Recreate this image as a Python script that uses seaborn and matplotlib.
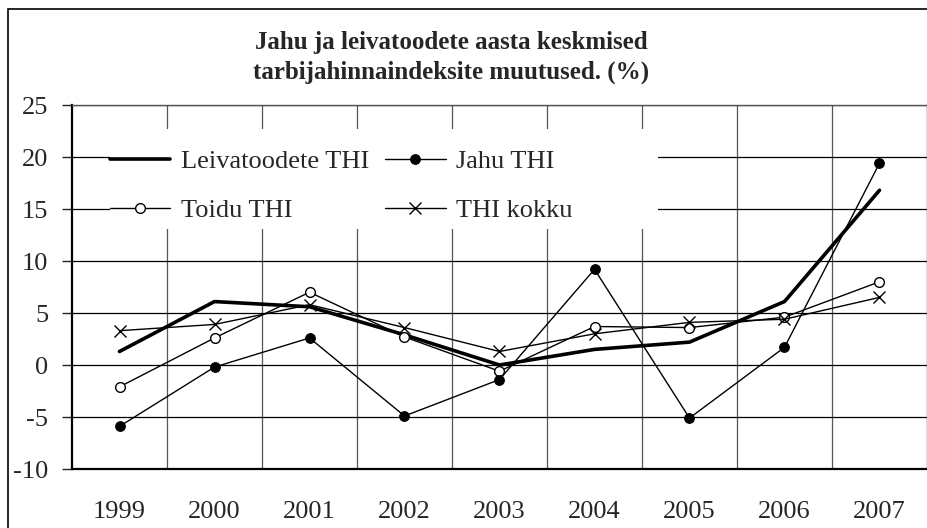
import numpy as np
import pandas as pd
import seaborn as sns
import matplotlib.pyplot as plt
from matplotlib.patches import Rectangle
from matplotlib.ticker import FixedLocator

# data (%)
years = ['1999', '2000', '2001', '2002', '2003', '2004', '2005', '2006', '2007']
leiva = [1.3, 6.1, 5.6, 2.9, 0.0, 1.5, 2.2, 6.1, 16.8]
jahu = [-5.9, -0.2, 2.6, -4.9, -1.4, 9.2, -5.1, 1.7, 19.4]
toidu = [-2.1, 2.6, 7.0, 2.7, -0.6, 3.7, 3.6, 4.6, 8.0]
kokku = [3.3, 3.9, 5.8, 3.6, 1.3, 3.0, 4.1, 4.4, 6.5]

names = ['Leivatoodete THI', 'Toidu THI', 'Jahu THI', 'THI kokku']

sns.set_style("white")
plt.rcParams['font.family'] = ['Liberation Serif', 'DejaVu Serif']
plt.rcParams['axes.unicode_minus'] = False

fig = plt.figure(figsize=(9.28, 5.28), dpi=100)
ax = fig.add_axes([72 / 928, 59 / 528, 855 / 928, 364 / 528])

# line styles per series
sns.lineplot(x=years, y=leiva, ax=ax, color='black', lw=2.6, sort=False,
             label=names[0], zorder=3)
sns.lineplot(x=years, y=toidu, ax=ax, color='black', lw=1.0, sort=False,
             marker='o', markersize=7, markerfacecolor='white',
             markeredgecolor='black', markeredgewidth=1.0, label=names[1], zorder=3)
sns.lineplot(x=years, y=jahu, ax=ax, color='black', lw=1.0, sort=False,
             marker='o', markersize=7, markerfacecolor='black',
             markeredgecolor='black', label=names[2], zorder=3)
sns.lineplot(x=years, y=kokku, ax=ax, color='black', lw=1.0, sort=False,
             marker='x', markersize=9, markeredgewidth=1.0,
             markeredgecolor='black', label=names[3], zorder=3)

ax.set_xlim(-0.5, len(years) - 0.5)
ax.set_ylim(-10, 25)
ax.set_yticks(np.arange(-10, 30, 5))
ax.set_xlabel('')
ax.set_ylabel('')

ax.set_axisbelow(True)
ax.yaxis.grid(True, color='black', lw=0.9)
ax.xaxis.set_minor_locator(FixedLocator(np.arange(0.5, len(years) - 1, 1)))
ax.grid(which='minor', axis='x', color='#555555', lw=0.9)

ax.tick_params(axis='x', which='both', length=0, pad=23, labelsize=19)
ax.tick_params(axis='y', length=7, width=1, direction='out', pad=10,
               labelsize=19, left=True)

for s in ['left', 'bottom']:
    ax.spines[s].set_color('black')
    ax.spines[s].set_linewidth(1.6)
for s in ['top', 'right']:
    ax.spines[s].set_color('#555555')
    ax.spines[s].set_linewidth(1.0)

# white box behind the legend hides the gridlines
ax.add_patch(Rectangle((0.044, 0.659), 0.641, 0.275, transform=ax.transAxes,
                       facecolor='white', edgecolor='none', zorder=1))

handles, labels = ax.get_legend_handles_labels()
ax.legend(handles, labels, ncol=2, loc='upper left',
          bbox_to_anchor=(0.044, 0.877), frameon=False, fontsize=19,
          borderpad=0, borderaxespad=0, handlelength=2.3, handletextpad=0.4,
          labelspacing=0.95, columnspacing=0.6)

fig.text(0.486, 1 - 42 / 528, 'Jahu ja leivatoodete aasta keskmised',
         ha='center', va='center', fontsize=18, fontweight='bold')
fig.text(0.486, 1 - 72 / 528, 'tarbijahinnaindeksite muutused. (%)',
         ha='center', va='center', fontsize=18, fontweight='bold')

# outer chart frame
fig.patches.append(Rectangle((8 / 928, -0.1), 1.2, 1 - 9 / 528 + 0.1,
                             transform=fig.transFigure, fill=False,
                             edgecolor='black', lw=1.2))

fig.savefig('out.png', dpi=100)
